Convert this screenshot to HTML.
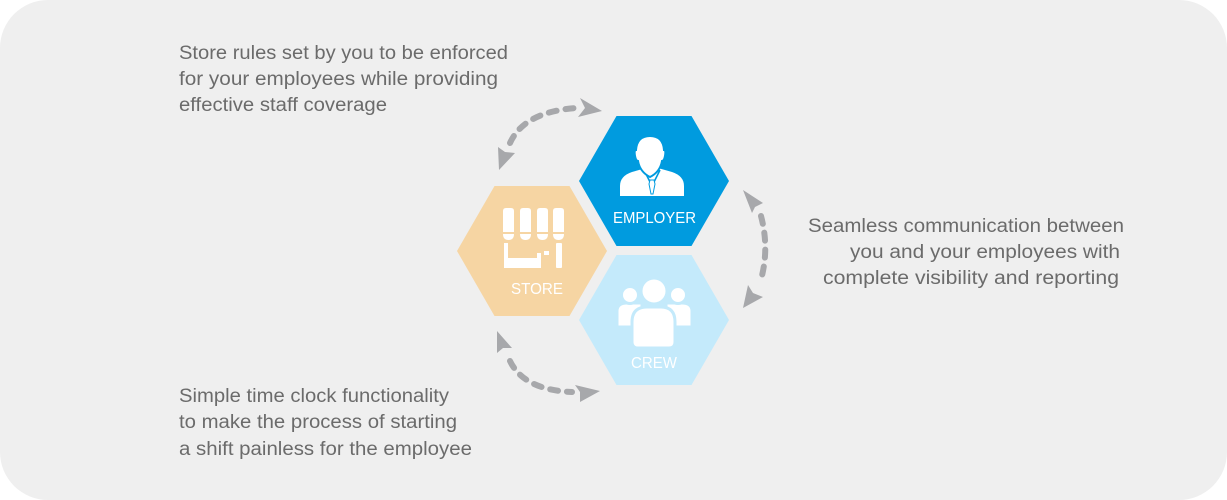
<!DOCTYPE html>
<html><head><meta charset="utf-8"><style>
html,body{margin:0;padding:0;background:#fff;}
svg{display:block;}
.t{font-family:"Liberation Sans",Arial,sans-serif;font-size:19px;fill:#6b6b6b;}
.l{font-family:"Liberation Sans",Arial,sans-serif;font-size:16px;fill:#fff;}
</style></head><body>
<svg width="1227" height="500" viewBox="0 0 1227 500" xmlns="http://www.w3.org/2000/svg">
<rect x="0" y="0" width="1227" height="500" fill="#ffffff"/>
<rect x="0" y="0" width="1227" height="500" rx="48" ry="48" fill="#efefef"/>

<!-- texts -->
<text class="t" x="179" y="59" textLength="329" lengthAdjust="spacingAndGlyphs">Store rules set by you to be enforced</text>
<text class="t" x="179" y="85" textLength="319" lengthAdjust="spacingAndGlyphs">for your employees while providing</text>
<text class="t" x="179" y="111" textLength="208" lengthAdjust="spacingAndGlyphs">effective staff coverage</text>

<text class="t" x="808" y="232" textLength="316" lengthAdjust="spacingAndGlyphs">Seamless communication between</text>
<text class="t" x="850" y="258" textLength="270" lengthAdjust="spacingAndGlyphs">you and your employees with</text>
<text class="t" x="823" y="284" textLength="296" lengthAdjust="spacingAndGlyphs">complete visibility and reporting</text>

<text class="t" x="179" y="402" textLength="270" lengthAdjust="spacingAndGlyphs">Simple time clock functionality</text>
<text class="t" x="179" y="428" textLength="278" lengthAdjust="spacingAndGlyphs">to make the process of starting</text>
<text class="t" x="179" y="455" textLength="293" lengthAdjust="spacingAndGlyphs">a shift painless for the employee</text>

<!-- hexagons -->
<polygon points="729,181 691.5,246 616.5,246 579,181 616.5,116 691.5,116" fill="#009bdf"/>
<polygon points="607,251 569.5,316 494.5,316 457,251 494.5,186 569.5,186" fill="#f6d5a3"/>
<polygon points="729,320 691.5,385 616.5,385 579,320 616.5,255 691.5,255" fill="#c4eafb"/>

<!-- employer icon -->
<path d="M620,196 L620,186 Q620,176 632,172 L646,168 L658,168 L672,172 Q684,176 684,186 L684,196 Z" fill="#fff"/>
<path d="M644,170 L650,182 M660,170 L654,182" stroke="#009bdf" stroke-width="1.6" fill="none"/>
<path d="M650,180 L654,180 L655,184 L653,194 L651,194 L649,184 Z" fill="#fff" stroke="#009bdf" stroke-width="1"/>
<path d="M650,136 Q637,136 636,150 Q634,150 635,156 Q636,161 638,161 Q640,172 650,177 Q660,172 662,161 Q664,161 665,156 Q666,150 664,150 Q663,136 650,136 Z" fill="#fff" stroke="#009bdf" stroke-width="2"/>
<text class="l" x="654.5" y="223" text-anchor="middle" textLength="83" lengthAdjust="spacingAndGlyphs">EMPLOYER</text>

<!-- store icon -->
<g fill="#fff">
<path d="M503,232 L503,211 Q503,208 506,208 L511,208 Q514,208 514,211 L514,232 Z"/>
<path d="M520,232 L520,211 Q520,208 523,208 L528,208 Q531,208 531,211 L531,232 Z"/>
<path d="M537,232 L537,211 Q537,208 540,208 L545,208 Q548,208 548,211 L548,232 Z"/>
<path d="M553,232 L553,211 Q553,208 556,208 L561,208 Q564,208 564,211 L564,232 Z"/>
<path d="M503,234 L514,234 Q514,240 508.5,240 Q503,240 503,234 Z"/>
<path d="M520,234 L531,234 Q531,240 525.5,240 Q520,240 520,234 Z"/>
<path d="M537,234 L548,234 Q548,240 542.5,240 Q537,240 537,234 Z"/>
<path d="M553,234 L564,234 Q564,240 558.5,240 Q553,240 553,234 Z"/>
<path d="M504,243 L508,243 L508,258 L537,258 L537,253 L541,253 L541,268 L504,268 Z"/>
<rect x="544" y="251" width="5" height="4"/>
<rect x="556" y="243" width="6" height="25" rx="1"/>
</g>
<text class="l" x="537" y="294" text-anchor="middle" textLength="52" lengthAdjust="spacingAndGlyphs">STORE</text>

<!-- crew icon -->
<g fill="#fff" stroke="#c4eafb" stroke-width="3">
<path d="M617,327 L617,311 Q617,303 627,303 L642,303 L642,327 Z"/>
<path d="M692,327 L692,311 Q692,303 682,303 L666,303 L666,327 Z"/>
<circle cx="630" cy="295" r="8.5"/>
<circle cx="678" cy="295" r="8.5"/>
<path d="M632,347 L632,322 Q632,307 647,307 L661,307 Q675,307 675,322 L675,342 Q675,348 669,348 L638,348 Q632,348 632,342 Z"/>
<circle cx="654" cy="291" r="13"/>
</g>
<text class="l" x="654" y="368" text-anchor="middle" textLength="46" lengthAdjust="spacingAndGlyphs">CREW</text>

<!-- arrows -->
<g stroke="#a7a8ab" stroke-width="6" stroke-linecap="round" fill="none" stroke-dasharray="8 9">
<path d="M510,143 Q524,112 576,108"/>
<path d="M761,216 Q770,250 760,283"/>
<path d="M510,361 Q524,390 572,392"/>
</g>
<g fill="#a7a8ab">
<polygon points="499,170 498,147 505,152 515,153"/>
<polygon points="602,111 580,98 585,108 578,117"/>
<polygon points="743,190 763,203 755,207 752,213"/>
<polygon points="743,308 748,285 753,293 763,297"/>
<polygon points="497,331 512,348 503,348 497,353"/>
<polygon points="600,391 575,385 580,392 580,402"/>
</g>
</svg>
</body></html>
